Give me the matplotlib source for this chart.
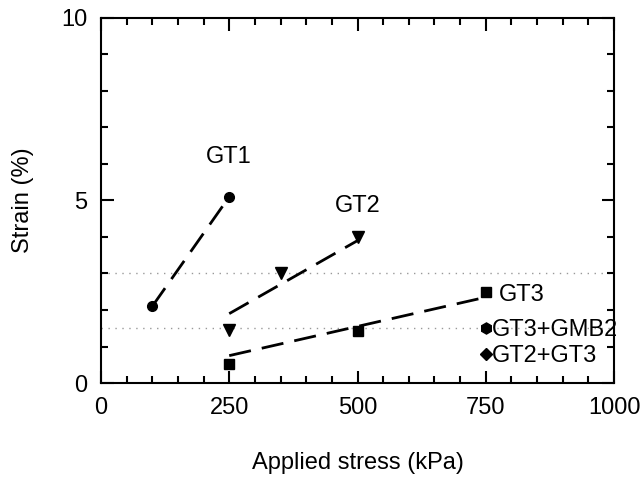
import matplotlib.pyplot as plt
from matplotlib.ticker import MultipleLocator

plt.rcParams["font.family"] = ["Liberation Sans", "DejaVu Sans"]
plt.rcParams["font.size"] = 17

# measured points
gt1_x = [100, 250]
gt1_y = [2.1, 5.1]
gt2_x = [250, 350, 500]
gt2_y = [1.45, 3.0, 4.0]
gt3_x = [250, 500, 750]
gt3_y = [0.52, 1.42, 2.5]
gmb_x = [750]
gmb_y = [1.52]
gt23_x = [750]
gt23_y = [0.8]

# fitted trend lines (endpoints)
fit1_x = [100, 250]
fit1_y = [2.1, 5.1]
fit2_x = [250, 500]
fit2_y = [1.9, 3.9]
fit3_x = [250, 750]
fit3_y = [0.75, 2.35]

ref_levels = [3.0, 1.5]

fig = plt.figure(figsize=(6.43, 4.83), dpi=100)
ax = fig.add_axes([0.157, 0.207, 0.798, 0.756])

for lv in ref_levels:
    ax.axhline(lv, color="#999999", lw=1.0, ls=(0, (1, 4)), zorder=1)

dash = (0, (8, 4))
for fx, fy in [(fit1_x, fit1_y), (fit2_x, fit2_y), (fit3_x, fit3_y)]:
    ax.plot(fx, fy, color="black", lw=2.0, ls=dash, zorder=2)

ax.plot(gt1_x, gt1_y, "o", color="black", ms=7, zorder=3)
ax.plot(gt2_x, gt2_y, "v", color="black", ms=8, zorder=3)
ax.plot(gt3_x, gt3_y, "s", color="black", ms=7, zorder=3)
ax.plot(gmb_x, gmb_y, "h", color="black", ms=8, zorder=3)
ax.plot(gt23_x, gt23_y, "D", color="black", ms=6, zorder=3)

ax.text(250, 6.2, "GT1", ha="center", va="center")
ax.text(500, 4.85, "GT2", ha="center", va="center")
ax.text(775, 2.4, "GT3", ha="left", va="center")
ax.text(762, 1.45, "GT3+GMB2", ha="left", va="center")
ax.text(762, 0.75, "GT2+GT3", ha="left", va="center")

ax.set_xlim(0, 1000)
ax.set_ylim(0, 10)
ax.xaxis.set_major_locator(MultipleLocator(250))
ax.xaxis.set_minor_locator(MultipleLocator(50))
ax.yaxis.set_major_locator(MultipleLocator(5))
ax.yaxis.set_minor_locator(MultipleLocator(1))
ax.tick_params(which="both", direction="in", top=True, right=True, width=1.5)
ax.tick_params(which="major", length=9, pad=10)
ax.tick_params(which="minor", length=5)
for sp in ax.spines.values():
    sp.set_linewidth(1.5)

ax.set_xlabel("Applied stress (kPa)", labelpad=24)
ax.set_ylabel("Strain (%)", labelpad=19)

fig.savefig("out.png", dpi=100)
